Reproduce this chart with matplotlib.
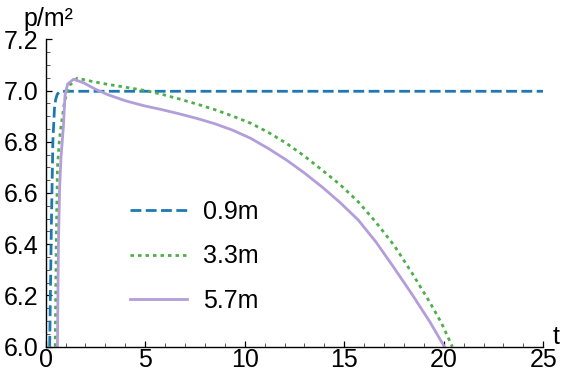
import numpy as np
import matplotlib.pyplot as plt
from matplotlib.ticker import MultipleLocator

plt.rcParams['font.family'] = ['Liberation Sans', 'DejaVu Sans']

# ── Data (pressure vs time at three depths) ──────────────────────────────────

t_09 = [0.20, 0.28, 0.36, 0.44, 0.50, 0.58, 0.68, 0.85, 1.2, 25.0]
p_09 = [6.00, 6.45, 6.80, 6.93, 6.965, 6.985, 6.994, 6.997, 6.997, 6.997]

t_33 = [0.48, 0.53, 0.59, 0.68, 0.77, 0.95, 1.2, 1.58, 2.3, 3.11, 4.0, 4.91,
        5.8, 6.71, 7.6, 8.51, 9.4, 10.31, 11.2, 12.11, 13.0, 13.91, 14.8,
        15.71, 16.6, 17.51, 18.4, 19.31, 19.9, 20.43]
p_33 = [6.00, 6.40, 6.70, 6.80, 6.86, 6.96, 7.02, 7.048, 7.036, 7.024, 7.013, 7.001,
        6.986, 6.967, 6.947, 6.925, 6.900, 6.872, 6.836, 6.793, 6.744, 6.688, 6.632,
        6.565, 6.485, 6.395, 6.288, 6.172, 6.090, 6.000]

t_57 = [0.59, 0.64, 0.70, 0.77, 0.89, 0.97, 1.10, 1.40, 1.9, 2.5, 3.11, 4.0,
        4.91, 5.8, 6.71, 7.6, 8.51, 9.4, 10.31, 11.2, 12.11, 13.0, 13.91,
        14.8, 15.71, 16.6, 17.51, 18.4, 19.31, 20.03]
p_57 = [6.00, 6.40, 6.62, 6.74, 6.86, 6.98, 7.025, 7.044, 7.030, 7.005, 6.984, 6.960,
        6.941, 6.926, 6.909, 6.891, 6.870, 6.845, 6.813, 6.773, 6.728, 6.678, 6.622,
        6.562, 6.494, 6.408, 6.307, 6.205, 6.096, 6.000]

labels = ["0.9m", "3.3m", "5.7m"]

# ── Figure ───────────────────────────────────────────────────────────────────

FS = 18

fig = plt.figure(figsize=(5.62, 3.74), dpi=100)
ax = fig.add_axes([0.0813, 0.073, 0.8854, 0.822])

ax.plot(t_09, p_09, color="#1f78b4", lw=2.0, linestyle=(0, (3.9, 1.6)), label=labels[0])
ax.plot(t_33, p_33, color="#4daf4a", lw=2.0, linestyle=(0, (1.25, 1.45)), label=labels[1])
ax.plot(t_57, p_57, color="#b39ddb", lw=2.0, label=labels[2])

ax.set_xlim(0, 25)
ax.set_ylim(6.0, 7.2)
ax.xaxis.set_major_locator(MultipleLocator(5))
ax.xaxis.set_minor_locator(MultipleLocator(1))
ax.yaxis.set_major_locator(MultipleLocator(0.2))
ax.yaxis.set_minor_locator(MultipleLocator(0.05))
ax.yaxis.set_major_formatter(plt.FuncFormatter(lambda v, _: f"{v:.1f}"))

for s in ("top", "right"):
    ax.spines[s].set_visible(False)
for s in ("left", "bottom"):
    ax.spines[s].set_linewidth(1.0)
ax.tick_params(which="major", direction="in", length=4.5, width=0.9, labelsize=FS, pad=5)
ax.tick_params(which="minor", direction="in", length=3, width=0.7, color="#555555")
ax.tick_params(axis="x", pad=1)

fig.text(0.041, 0.950, "p/m²", fontsize=FS, ha="left", va="center")
fig.text(0.990, 0.100, "t", fontsize=FS, ha="center", va="center")

ax.legend(loc="upper left", bbox_to_anchor=(0.124, 0.550), frameon=False, fontsize=FS,
          handlelength=2.3, handletextpad=0.64, labelspacing=0.81)

fig.savefig("out.png", dpi=100)
